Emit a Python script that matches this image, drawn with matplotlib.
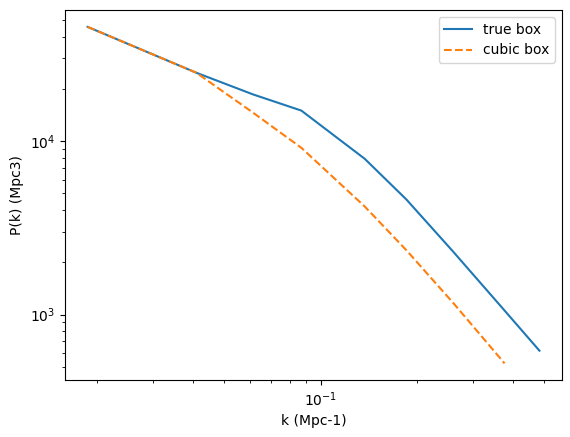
import matplotlib
matplotlib.use('Agg')
import matplotlib.pyplot as plt
import numpy as np

# wavenumbers (Mpc-1) and power spectra
k_true = [0.0187, 0.0409, 0.0615, 0.0871, 0.1374, 0.1854, 0.2594, 0.3758, 0.4830]
pk_true = [45600, 24800, 18600, 15000, 7910, 4610, 2310, 1055, 619]

k_cubic = [0.0187, 0.0409, 0.0615, 0.0871, 0.1374, 0.1854, 0.2594, 0.3758]
pk_cubic = [45600, 24800, 14600, 9150, 4200, 2350, 1170, 523]

fig = plt.figure(figsize=(5.7, 4.37), dpi=100)
ax = fig.add_axes([0.114, 0.130, 0.872, 0.847])

ax.plot(k_true, pk_true, label='true box')
ax.plot(k_cubic, pk_cubic, '--', label='cubic box')
ax.set_xscale('log')
ax.set_yscale('log')
ax.set_xlabel('k (Mpc-1)')
ax.set_ylabel('P(k) (Mpc3)')
ax.legend()

plt.savefig('out.png', dpi=100)
